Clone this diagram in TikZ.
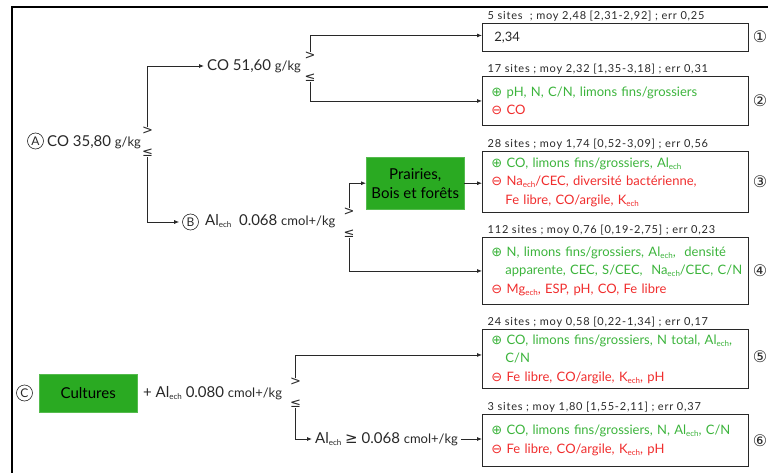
\documentclass[tikz,border=0pt]{standalone}
\usepackage{fontspec}
\setmainfont{Lato}
\newfontfamily\symf{DejaVu Sans}
\newfontfamily\sitesf[LetterSpace=7]{Lato}
\usetikzlibrary{arrows.meta}
\definecolor{pgreen}{RGB}{60,180,60}
\definecolor{pred}{RGB}{240,45,45}
\definecolor{boxgreen}{RGB}{42,170,34}
\definecolor{ink}{RGB}{40,40,40}
\newcommand{\ech}{\raisebox{-0.3ex}{\fontsize{8}{8}\selectfont ech}}
\newcommand{\psym}{{\symf ⊕}}
\newcommand{\msym}{{\symf ⊖}}
\newcommand{\ind}{\hspace*{14pt}}
\newcommand{\unit}[1]{{\fontsize{13}{14}\selectfont #1}}
\newcommand{\gl}[1]{\mbox{\color{pgreen}#1}}
\newcommand{\rl}[1]{\mbox{\color{pred}#1}}
\begin{document}
\begin{tikzpicture}[x=1pt,y=-1pt,
  every node/.style={inner sep=0pt, text=ink},
  lbl/.style={font=\fontsize{15}{17}\selectfont, anchor=west},
  cmp/.style={font=\symf\fontsize{13}{13}\selectfont},
  circ/.style={circle, draw=ink, line width=0.6pt, minimum size=16pt, font=\fontsize{12}{12}\selectfont},
  res/.style={draw=ink, line width=0.9pt, minimum width=266pt, anchor=north west,
    text width=248pt, align=left, inner xsep=9pt, font=\fontsize{13}{18.5}\selectfont},
  sites/.style={font=\sitesf\fontsize{11}{12}\selectfont, anchor=south west, inner sep=1.5pt},
  num/.style={font=\symf\fontsize{16}{16}\selectfont},
  gbox/.style={fill=boxgreen, draw=boxgreen!80!white, text=black, align=center,
    font=\fontsize{15}{19}\selectfont, anchor=north west},
  arr/.style={-{Latex[length=5pt,width=4pt]}, draw=ink, line width=0.8pt},
  arrt/.style={arr, shorten >=3pt}]
\useasboundingbox (0,0) rectangle (768,473);
\draw[line width=1.1pt] (12,473) -- (12,7) -- (768,7);

% decision labels
\node[circ] (Ac) at (35.5,141) {A};
\node[lbl] (A) at (47,142) {CO 35,80 \unit{g/kg}};
\node[cmp] (Agt) at (147.5,131) {>};
\node[cmp] (Ale) at (147.5,153) {≤};

\node[lbl] (CO) at (207,66) {CO 51,60 \unit{g/kg}};
\node[cmp] (Cgt) at (310,56) {>};
\node[cmp] (Cle) at (310,78) {≤};

\node[circ] (Bc) at (190.5,222) {B};
\node[lbl] (B) at (205,221) {Al\ech\ \ 0.068 \unit{cmol+/kg}};
\node[cmp] (Bgt) at (349,212) {>};
\node[cmp] (Ble) at (349,234) {≤};

\node[gbox, minimum width=98pt, minimum height=52pt] (P) at (366,157) {Prairies,\\Bois et forêts};

\node[circ] (Cc) at (24.5,393) {C};
\node[gbox, minimum width=98pt, minimum height=38pt] (Cu) at (39,374) {Cultures};
\node[lbl] (Cal) at (143,393) {+ Al\ech\ 0.080 \unit{cmol+/kg}};
\node[cmp] (Cugt) at (295.5,382) {>};
\node[cmp] (Cule) at (295.5,404) {≤};
\node[lbl] (D) at (315,439) {Al\ech\ {\symf ≥} 0.068 \unit{cmol+/kg}};

% result boxes
\node[res, minimum height=28pt] (b1) at (482,23) {\hspace*{3pt}2,34};
\node[res, minimum height=49pt] (b2) at (482,76) {\gl{\psym\ pH, N, C/N, limons fins/grossiers}\\
  \rl{\msym\ CO}};
\node[res, minimum height=61pt] (b3) at (482,151) {\gl{\psym\ CO, limons fins/grossiers, Al\ech}\\
  \rl{\msym\ Na\ech/CEC, diversité bactérienne,}\\
  \rl{\ind Fe libre, CO/argile, K\ech}};
\node[res, minimum height=67pt] (b4) at (482,237) {\gl{\psym\ N, limons fins/grossiers, Al\ech,\ \ densité}\\
  \gl{\ind apparente, CEC, S/CEC,\ \ Na\ech/CEC, C/N}\\
  \rl{\msym\ Mg\ech, ESP, pH, CO, Fe libre}};
\node[res, minimum height=59pt] (b5) at (482,329) {\gl{\psym\ CO, limons fins/grossiers, N total, Al\ech,}\\
  \gl{\ind C/N}\\
  \rl{\msym\ Fe libre, CO/argile, K\ech, pH}};
\node[res, minimum height=52pt] (b6) at (482,414) {\gl{\psym\ CO, limons fins/grossiers, N, Al\ech, C/N}\\
  \rl{\msym\ Fe libre, CO/argile, K\ech, pH}};

\node[sites] (s1) at ([xshift=4pt]b1.north west) {5 sites\ \ ; moy 2,48 [2,31-2,92] ; err 0,25};
\node[sites] (s2) at ([xshift=4pt]b2.north west) {17 sites ; moy 2,32 [1,35-3,18] ; err 0,31};
\node[sites] (s3) at ([xshift=4pt]b3.north west) {28 sites ; moy 1,74 [0,52-3,09] ; err 0,56};
\node[sites] (s4) at ([xshift=4pt]b4.north west) {112 sites ; moy 0,76 [0,19-2,75] ; err 0,23};
\node[sites] (s5) at ([xshift=4pt]b5.north west) {24 sites ; moy 0,58 [0,22-1,34] ; err 0,17};
\node[sites] (s6) at ([xshift=4pt]b6.north west) {3 sites ; moy 1,80 [1,55-2,11] ; err 0,37};

\node[num] (n1) at (760,37) {①};
\node[num] (n2) at (760,101) {②};
\node[num] (n3) at (760,182) {③};
\node[num] (n4) at (760,271) {④};
\node[num] (n5) at (760,357) {⑤};
\node[num] (n6) at (760,441) {⑥};

% connectors
\draw[arrt] (Agt.north) |- (CO.west);
\draw[arrt] (Ale.south) |- (Bc.west);
\draw[arr] (Cgt.north) |- ([yshift=2pt]b1.west);
\draw[arr] (Cle.south) |- (b2.west);
\draw[arr] (Bgt.north) |- (P.west);
\draw[arr] (P.east) -- (P.east -| b3.west);
\draw[arr] (Ble.south) |- (b4.west);
\draw[arr] (Cugt.north) |- ([yshift=4pt]b5.west);
\draw[arrt] (Cule.south) |- (D.west);
\draw[arr] ([xshift=3pt]D.east) -- (D.east -| b6.west);
\end{tikzpicture}
\end{document}
